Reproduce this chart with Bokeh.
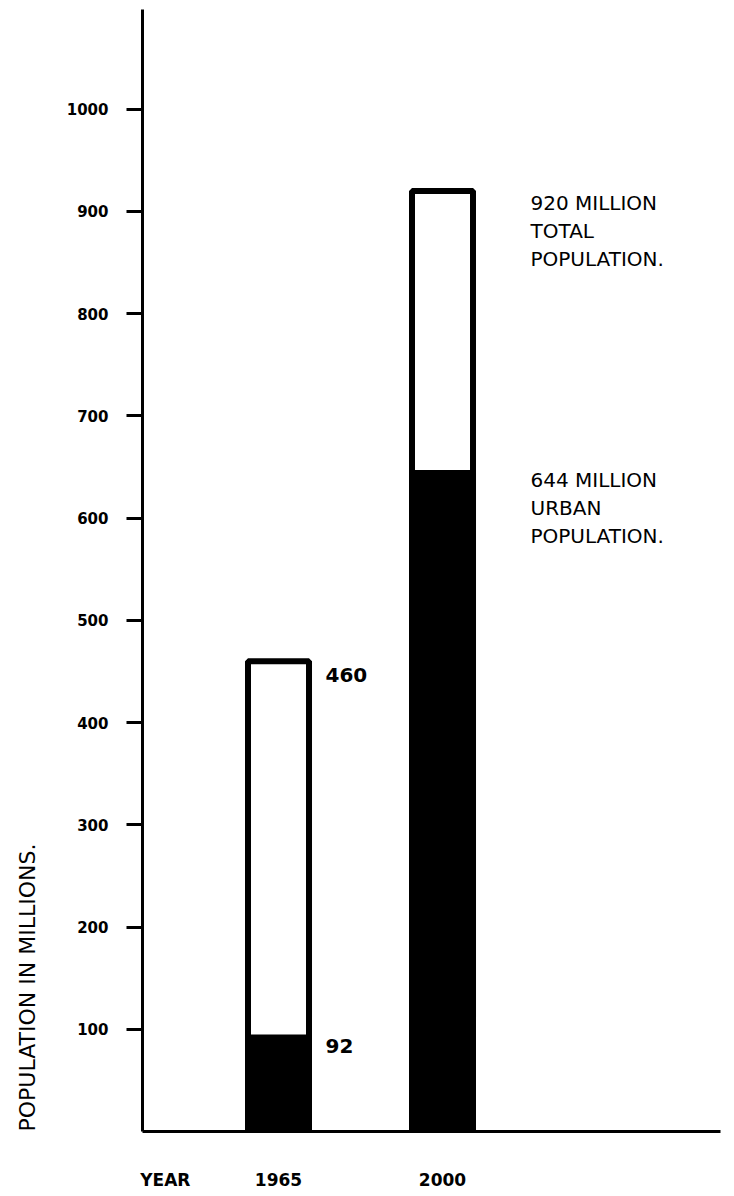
import math
from bokeh.plotting import figure
from bokeh.layouts import row
from bokeh.models import Range1d, FixedTicker, ColumnDataSource
from bokeh.core.properties import value
from bokeh.embed import file_html
from bokeh.resources import INLINE

# ---- data ----
years = ["1965", "2000"]
total_pop = [460, 920]
urban_pop = [92, 644]
y_tick_values = [100, 200, 300, 400, 500, 600, 700, 800, 900, 1000]
x_axis_word = "YEAR"
total_note = ["920 MILLION", "TOTAL", "POPULATION."]
urban_note = ["644 MILLION", "URBAN", "POPULATION."]
y_title = "POPULATION IN MILLIONS."

FONT = "DejaVu Sans"
xs = [i + 1 for i in range(len(years))]
year_word_pos = 0.31

TITLE_W = 40
y_range = Range1d(0, 1097.4)

p = figure(width=726 - TITLE_W, height=1192, output_backend="svg", toolbar_location=None,
           x_range=Range1d(0.1707, 3.6951), y_range=y_range,
           min_border_left=142 - TITLE_W, min_border_right=6, min_border_top=9,
           min_border_bottom=56)
p.outline_line_color = None
p.grid.visible = False
p.background_fill_color = "white"
p.border_fill_color = "white"

# bars: total (white, outlined) then urban (black)
bar_w = 0.372
src = ColumnDataSource(dict(x=xs, total=total_pop, urban=urban_pop))
p.vbar(x="x", top="total", bottom=0, width=bar_w, source=src,
       fill_color="white", line_color="black", line_width=6)
p.vbar(x="x", top="urban", bottom=0, width=bar_w, source=src,
       fill_color="black", line_color="black", line_width=6)

# y axis
ya = p.yaxis[0]
ya.ticker = FixedTicker(ticks=y_tick_values)
ya.axis_line_width = 3
ya.axis_line_color = "black"
ya.major_tick_out = 16
ya.major_tick_in = 0
ya.minor_tick_out = 0
ya.minor_tick_in = 0
ya.major_tick_line_width = 3
ya.major_tick_line_color = "black"
ya.major_label_standoff = 18
ya.major_label_text_font = FONT
ya.major_label_text_font_size = "15px"
ya.major_label_text_font_style = "bold"
ya.major_label_text_color = "black"

# x axis (baseline + year labels)
xa = p.xaxis[0]
xa.ticker = FixedTicker(ticks=[year_word_pos] + xs)
xa.major_label_overrides = {year_word_pos: x_axis_word, **{x: y for x, y in zip(xs, years)}}
xa.axis_line_width = 3
xa.axis_line_color = "black"
xa.major_tick_out = 0
xa.major_tick_in = 0
xa.minor_tick_out = 0
xa.minor_tick_in = 0
xa.major_label_standoff = 38
xa.major_label_text_font = FONT
xa.major_label_text_font_size = "17px"
xa.major_label_text_font_style = "bold"
xa.major_label_text_color = "black"

# value labels on the 1965 bar
val_src = ColumnDataSource(dict(
    x=[xs[0], xs[0]], y=[total_pop[0], urban_pop[0]],
    text=[str(total_pop[0]), str(urban_pop[0])], yoff=[14, 9]))
p.text(x="x", y="y", text="text", source=val_src, x_offset=47, y_offset="yoff",
       text_font=value(FONT), text_font_size="20px", text_font_style="bold",
       text_align="left", text_baseline="middle", text_color="black")

# notes beside the 2000 bar
note_src = ColumnDataSource(dict(
    x=[xs[1]] * 6,
    y=[total_pop[1]] * 3 + [urban_pop[1]] * 3,
    text=total_note + urban_note,
    yoff=[12, 40, 68, 7, 35, 63]))
p.text(x="x", y="y", text="text", source=note_src, x_offset=88, y_offset="yoff",
       text_font=value(FONT), text_font_size="20px",
       text_align="left", text_baseline="middle", text_color="black")

# narrow side panel holding the vertical axis title (shares the y scale)
t = figure(width=TITLE_W, height=1192, output_backend="svg", toolbar_location=None,
           x_range=Range1d(0, TITLE_W), y_range=y_range,
           x_axis_location=None, y_axis_location=None,
           min_border_left=0, min_border_right=0, min_border_top=9,
           min_border_bottom=56)
t.outline_line_color = None
t.grid.visible = False
t.background_fill_color = "white"
t.border_fill_color = "white"
title_src = ColumnDataSource(dict(x=[27], y=[0], text=[y_title]))
t.text(x="x", y="y", text="text", source=title_src, angle=math.pi / 2,
       text_font=value(FONT), text_font_size="22px", text_color="black",
       text_align="left", text_baseline="middle")

layout = row(t, p, spacing=0)
open("out.html", "w").write(file_html(layout, INLINE))
